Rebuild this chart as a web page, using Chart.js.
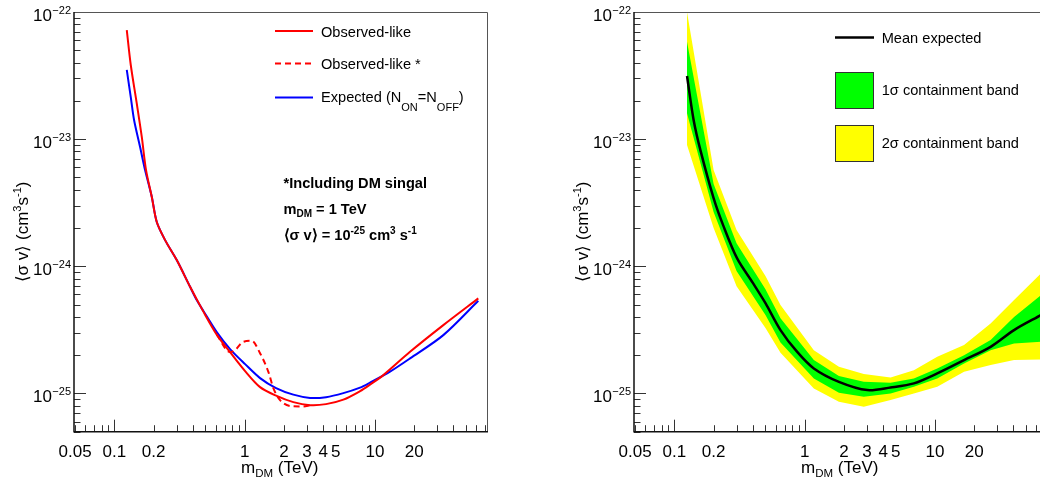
<!DOCTYPE html>
<html>
<head>
<meta charset="utf-8">
<script src="https://cdn.jsdelivr.net/npm/chart.js@4.4.0/dist/chart.umd.min.js"></script>
<style>
html,body{margin:0;padding:0;background:#fff;overflow:hidden;width:1040px;height:485px;position:relative;}
canvas{position:absolute;top:0;}
#c1{left:0;}
#c2{left:560px;}
</style>
</head>
<body>
<canvas id="c1" width="520" height="485"></canvas>
<canvas id="c2" width="520" height="485"></canvas>
<script>
// ---------------- data ----------------
// Left panel: Observed-like (red solid)
const mObs  = [0.1245,0.1336,0.1485,0.1622,0.175,0.1936,0.2115,0.245,0.301,0.381,0.482,0.6103,0.7722,1.007,1.3115,1.74,2.361,3.172,4.207,5.712,7.674,9.154,11.58,18.56,33.42,62];
const svObs = [7.2e-23,3.83e-23,1.91e-23,1.045e-23,5.7e-24,3.52e-24,2.23e-24,1.607e-24,1.119e-24,6.9e-25,4.4e-25,2.901e-25,2.113e-25,1.498e-25,1.121e-25,9.61e-26,8.54e-26,8.09e-26,8.24e-26,8.94e-26,1.042e-25,1.173e-25,1.393e-25,2.125e-25,3.446e-25,5.59e-25];
// Left panel: Observed-like * (red dashed, including DM signal)
const mObsSig  = [0.6103,0.7722,0.843,0.976,1.133,1.3115,1.519,1.659,1.867,2.296,2.8,3.2];
const svObsSig = [2.901e-25,2.113e-25,2.19e-25,2.547e-25,2.593e-25,2.07e-25,1.479e-25,1.1e-25,8.86e-26,7.94e-26,7.9e-26,8.09e-26];
// Left panel: Expected (blue)
const mExp  = [0.1245,0.1336,0.1416,0.1575,0.172,0.1936,0.2115,0.245,0.301,0.381,0.4286,0.482,0.6103,0.7722,1.007,1.3115,1.74,2.361,3.172,4.207,5.712,7.674,9.154,13.03,18.56,33.42,62];
const svExp = [3.5e-23,2.14e-23,1.414e-23,8.67e-24,5.71e-24,3.52e-24,2.23e-24,1.607e-24,1.119e-24,6.9e-25,5.42e-25,4.45e-25,3.035e-25,2.232e-25,1.70e-25,1.32e-25,1.101e-25,9.78e-26,9.22e-26,9.35e-26,1.005e-25,1.11e-25,1.216e-25,1.484e-25,1.886e-25,2.874e-25,5.353e-25];

// Right panel: mean expected (black)
const mMean  = [0.125,0.1406,0.1584,0.2,0.239,0.303,0.4,0.5,0.652,0.876,1.175,1.83,3.02,4.56,6.88,10.4,16.7,26.7,40.4,64.9];
const svMean = [3.14e-23,1.41e-23,8.2e-24,3.44e-24,2.05e-24,1.153e-24,7.4e-25,5.13e-25,3.15e-25,2.12e-25,1.573e-25,1.234e-25,1.062e-25,1.114e-25,1.2e-25,1.437e-25,1.828e-25,2.326e-25,3.15e-25,4.13e-25];
// Right panel: containment bands
const mBand   = [0.125,0.2,0.3,0.5,0.652,1.175,1.83,2.84,4.56,6.88,10.4,16.7,26.7,40.4,64.9];
const band2Hi = [1.0e-22,5.71e-24,1.93e-24,8.37e-25,4.95e-25,2.19e-25,1.62e-25,1.419e-25,1.336e-25,1.525e-25,1.94e-25,2.4e-25,3.55e-25,5.42e-25,8.79e-25];
const band1Hi = [5.84e-23,4.43e-24,1.52e-24,6.6e-25,3.91e-25,1.828e-25,1.368e-25,1.234e-25,1.212e-25,1.313e-25,1.573e-25,2.0e-25,2.63e-25,4.0e-25,5.93e-25];
const band1Lo = [1.6e-23,2.67e-24,9.17e-25,4.13e-25,2.51e-25,1.313e-25,1.011e-25,9.4e-26,1.0e-25,1.127e-25,1.313e-25,1.722e-25,2.19e-25,2.47e-25,2.55e-25];
const band2Lo = [9.0e-24,2.0e-24,6.98e-25,3.27e-25,2.09e-25,1.095e-25,8.59e-26,7.85e-26,8.86e-26,1.0e-25,1.127e-25,1.479e-25,1.67e-25,1.828e-25,1.85e-25];

// axes
const xTickValues = [0.05,0.1,0.2,1,2,3,4,5,10,20];
const yTickValues = [1e-25,1e-24,1e-23,1e-22];
const X_MIN = 0.049, X_MAX = 72.3;
const Y_MIN = 5e-26, Y_MAX = 1e-22;

// labels
const leftLegendLabels  = ['Observed-like','Observed-like *','Expected (N','ON','=N','OFF',')'];
const rightLegendLabels = ['Mean expected','1\u03C3 containment band','2\u03C3 containment band'];
const noteLines = ['*Including DM singal','m','DM',' = 1 TeV','\u27E8\u03C3 v\u27E9 = 10','-25',' cm','3',' s','-1'];

// ---------------- drawing helpers ----------------
const FONT = "'Liberation Sans', Arial, Helvetica, sans-serif";
function pts(xs, ys){ return xs.map((x,i)=>({x:x, y:ys[i]})); }
function rich(ctx, parts, x, y){
  let cx = x;
  for (const p of parts){
    ctx.font = (p.b ? 'bold ' : '') + p.sz + 'px ' + FONT;
    ctx.fillText(p.t, cx, y + (p.dy || 0));
    cx += ctx.measureText(p.t).width + (p.gap || 0);
  }
  return cx;
}
function richWidth(ctx, parts){
  let w = 0;
  for (const p of parts){ ctx.font = (p.b ? 'bold ' : '') + p.sz + 'px ' + FONT; w += ctx.measureText(p.t).width + (p.gap||0); }
  return w;
}
function seg(ctx, x1, y1, x2, y2, color, w, dash){
  ctx.save(); ctx.strokeStyle = color; ctx.lineWidth = w; ctx.setLineDash(dash || []);
  ctx.beginPath(); ctx.moveTo(x1, y1); ctx.lineTo(x2, y2); ctx.stroke(); ctx.restore();
}
function logTicks(min, max){
  const out = [];
  for (let e = Math.floor(Math.log10(min)); e <= Math.ceil(Math.log10(max)); e++){
    for (let k = 1; k < 10; k++){
      const v = k * Math.pow(10, e);
      if (v >= min * 0.9999 && v <= max * 1.0001) out.push({v: v, major: k === 1});
    }
  }
  return out;
}

const axisDeco = {
  id: 'axisDeco',
  afterDraw(chart){
    const ctx = chart.ctx, a = chart.chartArea, xs = chart.scales.x, ys = chart.scales.y;
    ctx.save();
    ctx.strokeStyle = '#333'; ctx.lineWidth = 1;
    for (const t of logTicks(xs.min, xs.max)){
      const px = Math.round(xs.getPixelForValue(t.v)) + 0.5;
      const len = t.major ? 12 : 6.5;
      ctx.beginPath(); ctx.moveTo(px, a.bottom); ctx.lineTo(px, a.bottom - len); ctx.stroke();
    }
    for (const t of logTicks(ys.min, ys.max)){
      const py = Math.round(ys.getPixelForValue(t.v)) + 0.5;
      const len = t.major ? 12 : 6.5;
      ctx.beginPath(); ctx.moveTo(a.left, py); ctx.lineTo(a.left + len, py); ctx.stroke();
    }
    ctx.strokeStyle = '#555'; ctx.lineWidth = 1;
    ctx.beginPath(); ctx.moveTo(a.left, a.top + 0.5); ctx.lineTo(a.right + 0.5, a.top + 0.5); ctx.lineTo(a.right + 0.5, a.bottom); ctx.stroke();
    ctx.strokeStyle = '#111'; ctx.lineWidth = 1.5;
    ctx.beginPath(); ctx.moveTo(a.left, a.top); ctx.lineTo(a.left, a.bottom); ctx.lineTo(a.right + 1, a.bottom); ctx.stroke();
    ctx.fillStyle = '#000'; ctx.textBaseline = 'alphabetic'; ctx.textAlign = 'left';
    for (const v of yTickValues){
      const py = ys.getPixelForValue(v);
      const e = Math.round(Math.log10(v));
      const parts = [{t:'10', sz:17, gap:0.5}, {t:'\u2212' + Math.abs(e), sz:11, dy:-7}];
      const w = richWidth(ctx, parts);
      rich(ctx, parts, a.left - 3 - w, py + 8.5);
    }
    const yParts = [{t:'\u27E8\u03C3 v\u27E9 (cm', sz:17}, {t:'3', sz:11, dy:-7}, {t:'s', sz:17}, {t:'-1', sz:11, dy:-7}, {t:')', sz:17}];
    const yw = richWidth(ctx, yParts);
    ctx.save(); ctx.translate(27.5, 232); ctx.rotate(-Math.PI / 2);
    rich(ctx, yParts, -yw / 2, 0);
    ctx.restore();
    rich(ctx, [{t:'m', sz:17}, {t:'DM', sz:11.5, dy:4.5}, {t:' (TeV)', sz:17}], 241, 472.5);
    ctx.restore();
  }
};

const leftNotes = {
  id: 'leftNotes',
  afterDraw(chart){
    const ctx = chart.ctx; ctx.save();
    seg(ctx, 275, 31, 313, 31, '#ff0000', 2);
    seg(ctx, 275, 63.5, 313, 63.5, '#ff0000', 2, [6, 4]);
    seg(ctx, 275, 97.5, 313, 97.5, '#0000ff', 2);
    ctx.fillStyle = '#000'; ctx.textBaseline = 'alphabetic'; ctx.textAlign = 'left';
    const L = leftLegendLabels;
    rich(ctx, [{t:L[0], sz:14.6}], 321, 36.5);
    rich(ctx, [{t:L[1], sz:14.6}], 321, 68.5);
    rich(ctx, [{t:L[2], sz:14.6}, {t:L[3], sz:11, dy:9.5}, {t:L[4], sz:14.6}, {t:L[5], sz:11, dy:9.5}, {t:L[6], sz:14.6}], 321, 101.5);
    const N = noteLines;
    rich(ctx, [{t:N[0], sz:14.6, b:true}], 283.5, 188);
    rich(ctx, [{t:N[1], sz:14.6, b:true}, {t:N[2], sz:10, b:true, dy:3.5}, {t:N[3], sz:14.6, b:true}], 283.5, 213.5);
    rich(ctx, [{t:N[4], sz:14.6, b:true}, {t:N[5], sz:10, b:true, dy:-6}, {t:N[6], sz:14.6, b:true}, {t:N[7], sz:10, b:true, dy:-6}, {t:N[8], sz:14.6, b:true}, {t:N[9], sz:10, b:true, dy:-6}], 283.5, 240);
    ctx.restore();
  }
};

const rightNotes = {
  id: 'rightNotes',
  afterDraw(chart){
    const ctx = chart.ctx; ctx.save();
    seg(ctx, 275, 37.5, 314, 37.5, '#000', 2.5);
    ctx.fillStyle = '#00ff00'; ctx.fillRect(275, 72, 39, 37);
    ctx.strokeStyle = '#333'; ctx.lineWidth = 1; ctx.strokeRect(275.5, 72.5, 38, 36);
    ctx.fillStyle = '#ffff00'; ctx.fillRect(275, 125, 39, 37);
    ctx.strokeRect(275.5, 125.5, 38, 36);
    ctx.fillStyle = '#000'; ctx.textBaseline = 'alphabetic'; ctx.textAlign = 'left';
    rich(ctx, [{t:rightLegendLabels[0], sz:14.6}], 321.7, 42.7);
    rich(ctx, [{t:rightLegendLabels[1], sz:14.6}], 321.7, 95);
    rich(ctx, [{t:rightLegendLabels[2], sz:14.6}], 321.7, 148.3);
    ctx.restore();
  }
};

function baseOptions(){
  return {
    responsive: false, animation: false, devicePixelRatio: 1,
    layout: { padding: { left: 0, top: 12, right: 33, bottom: 0 } },
    plugins: { legend: { display: false }, tooltip: { enabled: false } },
    elements: { point: { radius: 0, hoverRadius: 0 } },
    scales: {
      x: {
        type: 'logarithmic', min: X_MIN, max: X_MAX,
        grid: { display: false }, border: { display: false },
        ticks: { autoSkip: false, maxRotation: 0, minRotation: 0, padding: 2, color: '#000',
                 font: { family: FONT, size: 17 }, callback: (v) => String(v) },
        afterBuildTicks: (s) => { s.ticks = xTickValues.map(v => ({ value: v })); },
        afterFit: (s) => { s.height = 53.3; }
      },
      y: {
        type: 'logarithmic', min: Y_MIN, max: Y_MAX,
        grid: { display: false }, border: { display: false },
        ticks: { display: false },
        afterBuildTicks: (s) => { s.ticks = yTickValues.map(v => ({ value: v })); },
        afterFit: (s) => { s.width = 74; }
      }
    }
  };
}

new Chart(document.getElementById('c1'), {
  type: 'line',
  data: { datasets: [
    { label: 'Observed-like *', data: pts(mObsSig, svObsSig), borderColor: '#ff0000', borderWidth: 2, borderDash: [6, 4], cubicInterpolationMode: 'monotone', fill: false, order: 0 },
    { label: 'Observed-like', data: pts(mObs, svObs), borderColor: '#ff0000', borderWidth: 2, tension: 0.3, fill: false, order: 1 },
    { label: 'Expected (N_ON=N_OFF)', data: pts(mExp, svExp), borderColor: '#0000ff', borderWidth: 2, tension: 0.3, fill: false, order: 2 }
  ]},
  options: baseOptions(),
  plugins: [axisDeco, leftNotes]
});

new Chart(document.getElementById('c2'), {
  type: 'line',
  data: { datasets: [
    { label: 'Mean expected', data: pts(mMean, svMean), borderColor: '#000', borderWidth: 2.5, tension: 0.3, fill: false, order: 0 },
    { label: '1\u03C3 containment band', data: pts(mBand, band1Hi), borderColor: 'rgba(0,0,0,0)', borderWidth: 0, backgroundColor: '#00ff00', fill: '+1', tension: 0, order: 1 },
    { label: '1\u03C3 low', data: pts(mBand, band1Lo), borderColor: 'rgba(0,0,0,0)', borderWidth: 0, fill: false, tension: 0, order: 1 },
    { label: '2\u03C3 containment band', data: pts(mBand, band2Hi), borderColor: 'rgba(0,0,0,0)', borderWidth: 0, backgroundColor: '#ffff00', fill: '+1', tension: 0, order: 2 },
    { label: '2\u03C3 low', data: pts(mBand, band2Lo), borderColor: 'rgba(0,0,0,0)', borderWidth: 0, fill: false, tension: 0, order: 2 }
  ]},
  options: baseOptions(),
  plugins: [axisDeco, rightNotes]
});
</script>
</body>
</html>
